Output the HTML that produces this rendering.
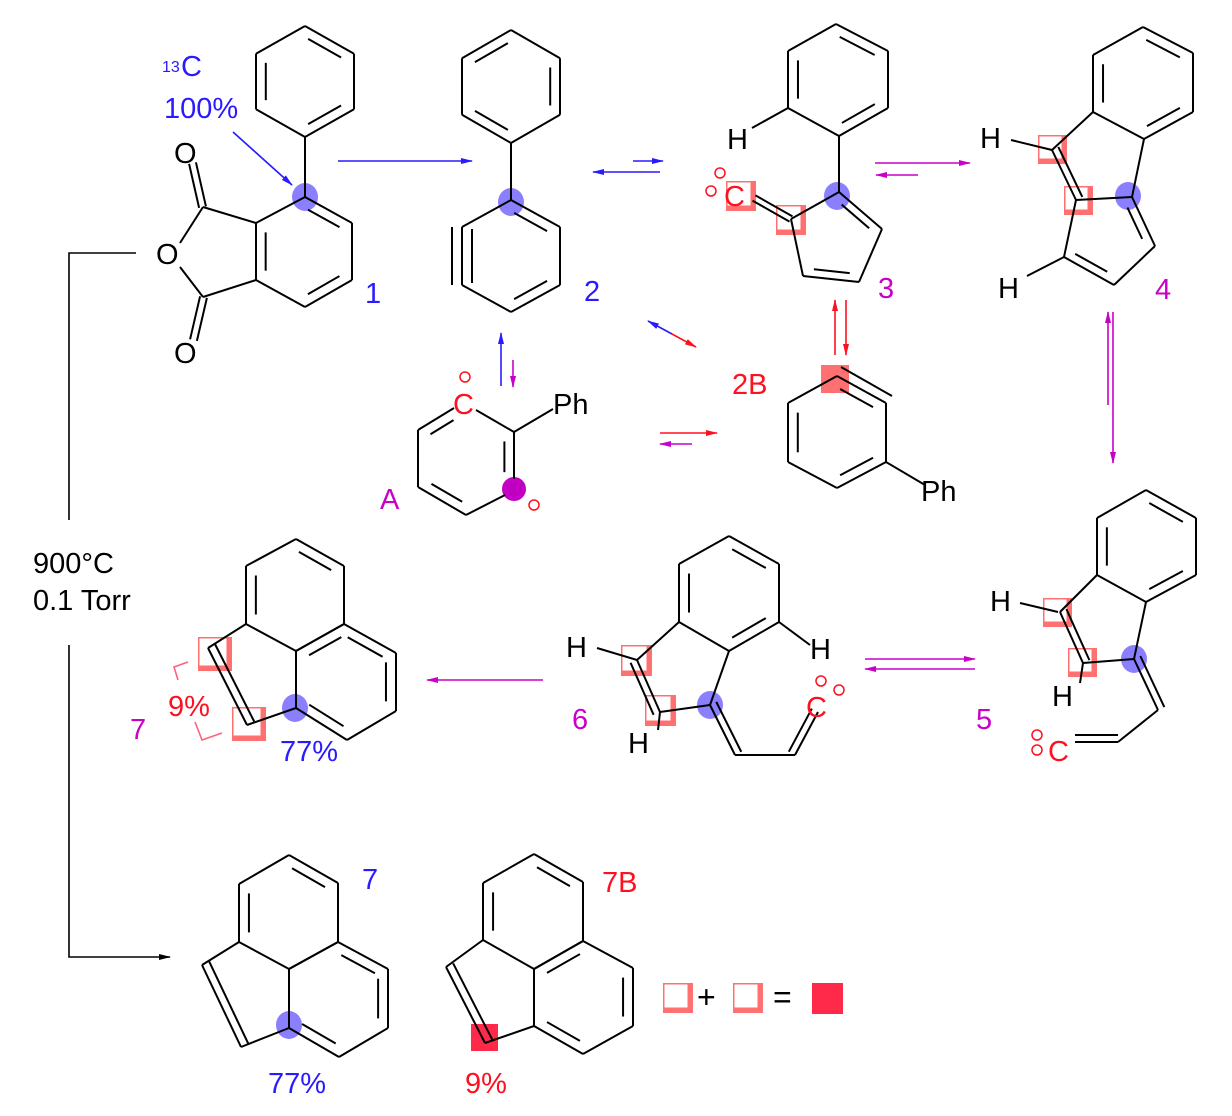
<!DOCTYPE html>
<html><head><meta charset="utf-8"><style>
html,body{margin:0;padding:0;background:#fff;}
svg{display:block;font-family:"Liberation Sans",sans-serif;}
</style></head><body>
<svg id="s" width="1232" height="1116" viewBox="0 0 1232 1116" xmlns="http://www.w3.org/2000/svg">
<defs>
<marker id="hb" markerWidth="12" markerHeight="8" refX="11" refY="4" orient="auto" markerUnits="userSpaceOnUse"><path d="M0,1 L12,4 L0,7 Z" fill="#2a1aff"/></marker>
<marker id="hm" markerWidth="12" markerHeight="8" refX="11" refY="4" orient="auto" markerUnits="userSpaceOnUse"><path d="M0,1 L12,4 L0,7 Z" fill="#c800c8"/></marker>
<marker id="hr" markerWidth="12" markerHeight="8" refX="11" refY="4" orient="auto" markerUnits="userSpaceOnUse"><path d="M0,1 L12,4 L0,7 Z" fill="#ff1020"/></marker>
<marker id="hk" markerWidth="12" markerHeight="8" refX="11" refY="4" orient="auto" markerUnits="userSpaceOnUse"><path d="M0,1 L12,4 L0,7 Z" fill="#000"/></marker>
</defs>
<g id="hl"></g>
<g id="bonds" stroke="#000" stroke-width="2" fill="none"></g>
<g id="arrows" stroke-width="1.6" fill="none">
<line x1="338" y1="161" x2="472" y2="161" stroke="#2a1aff" marker-end="url(#hb)"/>
<line x1="633" y1="161" x2="663" y2="161" stroke="#2a1aff" marker-end="url(#hb)"/>
<line x1="660" y1="172" x2="593" y2="172" stroke="#2a1aff" marker-end="url(#hb)"/>
<line x1="875" y1="163" x2="970" y2="163" stroke="#c800c8" marker-end="url(#hm)"/>
<line x1="918" y1="175" x2="876" y2="175" stroke="#c800c8" marker-end="url(#hm)"/>
<line x1="1108" y1="405" x2="1108" y2="312" stroke="#c800c8" marker-end="url(#hm)"/>
<line x1="1113" y1="312" x2="1113" y2="463" stroke="#c800c8" marker-end="url(#hm)"/>
<line x1="865" y1="659" x2="975" y2="659" stroke="#c800c8" marker-end="url(#hm)"/>
<line x1="975" y1="669" x2="865" y2="669" stroke="#c800c8" marker-end="url(#hm)"/>
<line x1="543" y1="680" x2="427" y2="680" stroke="#c800c8" marker-end="url(#hm)"/>
<line x1="501" y1="386" x2="501" y2="333" stroke="#2a1aff" marker-end="url(#hb)"/>
<line x1="513" y1="360" x2="513" y2="387" stroke="#c800c8" marker-end="url(#hm)"/>
<line x1="835" y1="355" x2="835" y2="300" stroke="#ff1020" marker-end="url(#hr)"/>
<line x1="846" y1="300" x2="846" y2="355" stroke="#ff1020" marker-end="url(#hr)"/>
<line x1="660" y1="433" x2="717" y2="433" stroke="#ff1020" marker-end="url(#hr)"/>
<line x1="692" y1="444" x2="660" y2="444" stroke="#c800c8" marker-end="url(#hm)"/>
<line x1="672" y1="334" x2="648" y2="321" stroke="#2a1aff" marker-end="url(#hb)"/>
<line x1="672" y1="334" x2="696" y2="347" stroke="#ff1020" marker-end="url(#hr)"/>
<line x1="233" y1="132" x2="292" y2="185" stroke="#2a1aff" marker-end="url(#hb)"/>
<polyline points="136,253 69,253 69,520" stroke="#000"/>
<polyline points="69,645 69,957 170,957" stroke="#000" marker-end="url(#hk)"/>
<polyline points="188,662 174,667 178,680" stroke="#ff6080"/>
<polyline points="195,722 202,740 222,733" stroke="#ff6080"/>
</g>
<g id="txt" font-size="29">
<text x="162" y="72" fill="#2a1aff" font-size="16">13</text>
<text x="181" y="76" fill="#2a1aff">C</text>
<text x="164" y="118" fill="#2a1aff">100%</text>
<text x="174" y="163" fill="#000">O</text>
<text x="156" y="264" fill="#000">O</text>
<text x="174" y="363" fill="#000">O</text>
<text x="365" y="303" fill="#2a1aff">1</text>
<text x="584" y="301" fill="#2a1aff">2</text>
<text x="878" y="298" fill="#c800c8">3</text>
<text x="1155" y="299" fill="#c800c8">4</text>
<text x="976" y="729" fill="#c800c8">5</text>
<text x="572" y="729" fill="#c800c8">6</text>
<text x="130" y="739" fill="#c800c8">7</text>
<text x="380" y="509" fill="#c800c8">A</text>
<text x="732" y="394" fill="#ff1020">2B</text>
<text x="362" y="889" fill="#2a1aff">7</text>
<text x="602" y="892" fill="#ff1020">7B</text>
<text x="727" y="149" fill="#000">H</text>
<text x="980" y="148" fill="#000">H</text>
<text x="998" y="298" fill="#000">H</text>
<text x="990" y="611" fill="#000">H</text>
<text x="1052" y="706" fill="#000">H</text>
<text x="566" y="657" fill="#000">H</text>
<text x="810" y="659" fill="#000">H</text>
<text x="628" y="753" fill="#000">H</text>
<text x="553" y="414" fill="#000">Ph</text>
<text x="921" y="501" fill="#000">Ph</text>
<text x="453" y="414" fill="#ff1020">C</text>
<text x="724" y="206" fill="#ff1020">C</text>
<text x="806" y="717" fill="#ff1020">C</text>
<text x="1048" y="761" fill="#ff1020">C</text>
<text x="502" y="499" fill="#c800c8">C</text>
<text x="168" y="716" fill="#ff1020">9%</text>
<text x="280" y="761" fill="#2a1aff">77%</text>
<text x="268" y="1093" fill="#2a1aff">77%</text>
<text x="465" y="1093" fill="#ff1020">9%</text>
<text x="33" y="573" fill="#000">900°C</text>
<text x="33" y="610" fill="#000">0.1 Torr</text>
<text x="697" y="1008" fill="#000" font-size="32">+</text>
<text x="773" y="1008" fill="#000" font-size="32">=</text>
</g>
<g id="circ" fill="none" stroke="#ff1020" stroke-width="1.5">
<circle cx="465" cy="377" r="5"/><circle cx="534" cy="505" r="5"/>
<circle cx="720" cy="173" r="5"/><circle cx="711" cy="191" r="5"/>
<circle cx="821" cy="681" r="5"/><circle cx="839" cy="690" r="5"/>
<circle cx="1037" cy="735" r="5"/><circle cx="1037" cy="750" r="5"/>
</g>
</svg>
<script>
var S="http://www.w3.org/2000/svg";
var B=document.getElementById('bonds'),H=document.getElementById('hl');
function ln(a,b,g){var l=document.createElementNS(S,'line');l.setAttribute('x1',a[0]);l.setAttribute('y1',a[1]);l.setAttribute('x2',b[0]);l.setAttribute('y2',b[1]);(g||B).appendChild(l);}
function ring(p,d){var n=p.length,cx=0,cy=0;p.forEach(function(q){cx+=q[0];cy+=q[1]});cx/=n;cy/=n;
for(var i=0;i<n;i++){var a=p[i],b=p[(i+1)%n];ln(a,b);
if(d.indexOf(i)>=0){var f=0.2;var a2=[a[0]+(cx-a[0])*f,a[1]+(cy-a[1])*f],b2=[b[0]+(cx-b[0])*f,b[1]+(cy-b[1])*f];
var dx=b2[0]-a2[0],dy=b2[1]-a2[1];ln([a2[0]+dx*.08,a2[1]+dy*.08],[b2[0]-dx*.08,b2[1]-dy*.08]);}}}
function dbl(a,b,c){var f=0.2;var a2=[a[0]+(c[0]-a[0])*f,a[1]+(c[1]-a[1])*f],b2=[b[0]+(c[0]-b[0])*f,b[1]+(c[1]-b[1])*f];var dx=b2[0]-a2[0],dy=b2[1]-a2[1];ln([a2[0]+dx*.1,a2[1]+dy*.1],[b2[0]-dx*.1,b2[1]-dy*.1]);}
function par(a,b,o){var dx=b[0]-a[0],dy=b[1]-a[1],L=Math.hypot(dx,dy),nx=-dy/L*o,ny=dx/L*o;ln([a[0]+nx,a[1]+ny],[b[0]+nx,b[1]+ny]);}
function hex(cx,top,w,h){return [[cx,top],[cx+w,top+h*.25],[cx+w,top+h*.75],[cx,top+h],[cx-w,top+h*.75],[cx-w,top+h*.25]];}
function sq(x,y,s){var r=document.createElementNS(S,'rect');r.setAttribute('x',x);r.setAttribute('y',y);r.setAttribute('width',s);r.setAttribute('height',s);r.setAttribute('fill','#ff7070');H.appendChild(r);
var w=document.createElementNS(S,'rect');w.setAttribute('x',x+1.5);w.setAttribute('y',y+1.5);w.setAttribute('width',s-7);w.setAttribute('height',s-7);w.setAttribute('fill','#fff');H.appendChild(w);}
function fsq(x,y,s,c){var r=document.createElementNS(S,'rect');r.setAttribute('x',x);r.setAttribute('y',y);r.setAttribute('width',s);r.setAttribute('height',s);r.setAttribute('fill',c);H.appendChild(r);}
function dot(x,y,c,rx,ry){var e=document.createElementNS(S,'ellipse');e.setAttribute('cx',x);e.setAttribute('cy',y);e.setAttribute('rx',rx||13);e.setAttribute('ry',ry||14);e.setAttribute('fill',c);H.appendChild(e);}
dot(305,197,'#8a80ff');dot(511,202,'#8a80ff');dot(837,196,'#8a80ff');dot(1128,196,'#8a80ff');dot(1134,659,'#8a80ff');dot(710,705,'#8a80ff');dot(295,708,'#8a80ff');dot(289,1025,'#8a80ff');dot(514,489,'#c000c0',12,12);
sq(726,181,30);sq(776,205,30);sq(1038,135,29);sq(1064,186,29);sq(1043,598,29);sq(1068,648,29);sq(621,645,31);sq(645,695,31);sq(198,637,34);sq(232,707,34);
fsq(821,365,28,'#ff7070');fsq(471,1024,27,'#ff2a4a');
sq(663,983,30);sq(733,983,30);fsq(812,983,31,'#ff2a4a');
// 1
ring(hex(305,26,49,111),[0,2,4]);ring([[305,197],[352,223],[352,280],[305,307],[256,280],[256,223]],[0,2,4]);
ln([305,137],[305,197]);ln([256,223],[203,207]);ln([256,280],[203,297]);ln([203,207],[180,243]);ln([203,297],[180,267]);
par([203,207],[193,163],3);par([203,207],[193,163],-4);par([203,297],[193,340],3);par([203,297],[193,340],-4);
// 2
ring(hex(511,30,49,113),[1,3,5]);ring([[511,200],[560,227],[560,285],[511,312],[462,285],[462,227]],[0,2]);ln([452,227],[452,285]);ln([472,229],[472,283]);ln([511,143],[511,200]);
// A
ln([476,410],[514,432]);ln([514,432],[514,480]);dbl([514,432],[514,480],[466,460]);ln([505,495],[466,515]);ln([466,515],[418,487]);dbl([466,515],[418,487],[466,460]);ln([418,487],[418,430]);ln([418,430],[454,408]);dbl([418,430],[454,408],[466,460]);ln([514,432],[553,409]);
// 3
ring([[836,24],[888,51],[888,108],[839,136],[788,108],[788,51]],[0,2,4]);ln([788,108],[752,128]);ln([839,136],[839,192]);
ln([839,192],[882,229]);dbl([839,192],[882,229],[835,240]);ln([882,229],[859,282]);ln([859,282],[803,276]);dbl([859,282],[803,276],[835,240]);ln([803,276],[791,219]);ln([791,219],[839,192]);
par([791,219],[754,198],3);par([791,219],[754,198],-3);
// 4
ring([[1143,27],[1193,53],[1193,112],[1144,139],[1093,112],[1093,55]],[0,2,4]);
ln([1093,112],[1052,150]);ln([1144,139],[1132,197]);ln([1052,150],[1076,200]);par([1052,150],[1076,200],-7);ln([1076,200],[1132,197]);ln([1076,200],[1064,257]);ln([1064,257],[1114,285]);dbl([1064,257],[1114,285],[1100,230]);ln([1114,285],[1155,246]);ln([1155,246],[1132,197]);dbl([1155,246],[1132,197],[1100,230]);ln([1011,140],[1052,150]);ln([1027,276],[1064,257]);
// 2B
ring([[837,376],[886,403],[886,462],[837,488],[788,462],[788,403]],[0,2,4]);ln([841,367],[892,396]);ln([886,462],[925,485]);
// 5
ring([[1146,490],[1196,518],[1196,575],[1146,602],[1097,575],[1097,518]],[0,2,4]);
ln([1097,575],[1060,612]);ln([1146,602],[1134,659]);ln([1060,612],[1083,663]);par([1060,612],[1083,663],-7);ln([1083,663],[1134,659]);ln([1083,663],[1080,683]);ln([1020,603],[1058,612]);
ln([1134,659],[1158,710]);par([1134,659],[1158,710],-7);ln([1158,710],[1118,742]);ln([1118,742],[1075,742]);ln([1118,735],[1075,735]);
// 6
ring([[729,536],[779,564],[779,622],[729,651],[679,622],[679,564]],[0,2,4]);
ln([779,622],[810,645]);ln([679,622],[637,660]);ln([729,651],[710,705]);ln([637,660],[660,712]);par([637,660],[660,712],7);ln([660,712],[710,705]);ln([597,648],[637,660]);ln([660,712],[658,730]);
ln([710,705],[735,755]);par([710,705],[735,755],-7);ln([735,755],[795,755]);ln([795,755],[818,712]);par([795,755],[818,712],-7);
// 7 mid
ring([[296,539],[344,566],[344,624],[296,651],[246,624],[246,566]],[0,4]);ring([[344,624],[396,653],[396,711],[347,740],[296,708],[296,651]],[0,1,3,5]);
ln([246,624],[208,648]);ln([208,648],[247,725]);par([208,648],[247,725],-8);ln([247,725],[296,708]);
// 7 bottom
ring([[289,855],[338,883],[338,942],[289,969],[239,942],[239,884]],[0,4]);ring([[338,942],[388,969],[388,1028],[339,1057],[289,1028],[289,969]],[0,1,3]);
ln([239,942],[202,965]);ln([202,965],[241,1047]);par([202,965],[241,1047],-8);ln([241,1047],[289,1028]);
// 7B
ring([[534,854],[583,882],[583,941],[534,969],[483,940],[483,883]],[0,4]);ring([[583,941],[633,968],[633,1026],[583,1054],[534,1026],[534,969]],[1,3,5]);
ln([483,940],[446,967]);ln([446,967],[485,1043]);par([446,967],[485,1043],-8);ln([485,1043],[534,1026]);
</script>
</body></html>
